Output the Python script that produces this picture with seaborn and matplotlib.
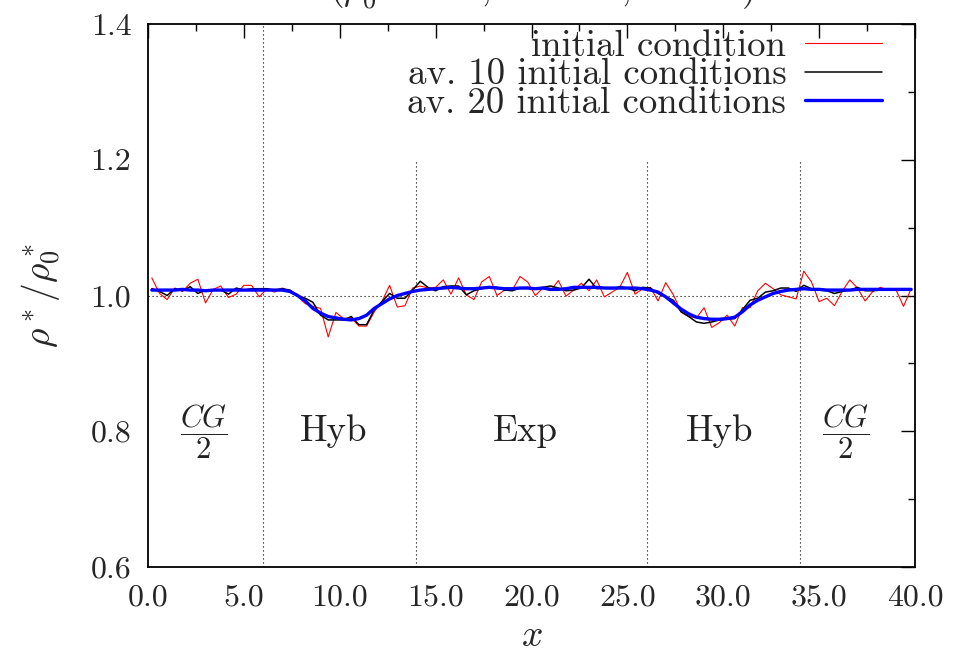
import numpy as np
import pandas as pd
import matplotlib
matplotlib.use("Agg")
import matplotlib.pyplot as plt
import seaborn as sns
from matplotlib.ticker import MultipleLocator

# ---------------- data ----------------
x_pos = np.round(np.arange(0.2, 40.0, 0.4), 1)

red_single = [
    1.026, 1.003, 0.994, 1.011, 1.006, 1.018, 1.024, 0.989, 1.009, 1.014,
    0.997, 1.002, 1.015, 1.015, 0.998, 1.010, 1.005, 1.011, 1.006,
    0.999, 0.988, 0.984, 0.981, 0.939, 0.975, 0.966, 0.967, 0.955, 0.955,
    0.976, 0.991, 1.015, 0.983, 0.985, 1.011, 1.014, 1.011, 1.012, 1.023, 1.002,
    1.026, 1.001, 0.994, 1.020, 1.028, 1.000, 1.008, 1.008, 1.028, 1.020,
    1.000, 1.011, 1.007, 1.022, 0.999, 1.008, 1.018, 1.007, 1.023, 0.998,
    1.005, 1.012, 1.034, 1.002, 1.010, 1.012, 0.992, 1.019, 1.001, 0.976,
    0.969, 0.967, 0.982, 0.953, 0.960, 0.971, 0.955, 0.982, 0.982, 1.007,
    1.018, 1.010, 1.001, 0.998, 0.995, 1.036, 1.020, 0.991, 0.996, 0.985,
    1.006, 1.023, 1.011, 0.992, 1.006, 1.012, 1.008, 1.009, 0.984, 1.010,
]

black_avg10 = [
    1.010, 1.006, 1.000, 1.010, 1.007, 1.013, 1.003, 1.008, 1.008, 1.008,
    1.002, 1.011, 1.008, 1.010, 1.010, 1.010, 1.008, 1.010, 1.008,
    1.000, 0.996, 0.990, 0.971, 0.964, 0.964, 0.964, 0.969, 0.957, 0.957,
    0.979, 0.991, 1.003, 0.996, 0.996, 1.008, 1.021, 1.012, 1.007, 1.013, 1.014,
    1.014, 1.001, 1.007, 1.010, 1.013, 1.012, 1.008, 1.007, 1.011, 1.012,
    1.010, 1.012, 1.014, 1.011, 1.007, 1.008, 1.011, 1.024, 1.010, 1.011,
    1.010, 1.013, 1.011, 1.007, 1.012, 1.011, 1.003, 0.998, 0.993, 0.976,
    0.969, 0.961, 0.959, 0.961, 0.964, 0.965, 0.966, 0.979, 0.993, 0.996,
    1.005, 1.007, 1.011, 1.011, 1.006, 1.015, 1.010, 1.008, 1.007, 1.003,
    1.006, 1.008, 1.012, 1.007, 1.007, 1.008, 1.010, 1.008, 1.008, 1.008,
]

blue_avg20 = [
    1.008, 1.008, 1.008, 1.008, 1.009, 1.008, 1.008, 1.007, 1.008, 1.008,
    1.008, 1.008, 1.008, 1.008, 1.008, 1.008, 1.008, 1.008, 1.006,
    1.000, 0.992, 0.981, 0.974, 0.969, 0.967, 0.965, 0.964, 0.966, 0.971,
    0.981, 0.988, 0.995, 1.000, 1.003, 1.006, 1.008, 1.009, 1.010, 1.011, 1.012,
    1.011, 1.010, 1.010, 1.011, 1.012, 1.011, 1.010, 1.010, 1.011, 1.011,
    1.010, 1.011, 1.009, 1.009, 1.010, 1.012, 1.012, 1.012, 1.012, 1.011,
    1.011, 1.011, 1.011, 1.011, 1.010, 1.008, 1.005, 0.998, 0.989, 0.980,
    0.973, 0.968, 0.966, 0.965, 0.965, 0.966, 0.968, 0.976, 0.986, 0.993,
    0.998, 1.003, 1.006, 1.008, 1.009, 1.010, 1.009, 1.009, 1.008, 1.008,
    1.008, 1.008, 1.009, 1.009, 1.009, 1.009, 1.009, 1.009, 1.009, 1.009,
]

series_labels = ["initial condition", "av. 10 initial conditions",
                 "av. 20 initial conditions"]

x_ticks = [0, 5, 10, 15, 20, 25, 30, 35, 40]
x_tick_labels = ["0.0", "5.0", "10.0", "15.0", "20.0", "25.0", "30.0", "35.0", "40.0"]
y_ticks = [0.6, 0.8, 1.0, 1.2, 1.4]
y_tick_labels = ["0.6", "0.8", "1.0", "1.2", "1.4"]

boundaries_full = [6]
boundaries_short = [14, 26, 34]

region_x = [2.9, 9.7, 19.7, 29.8, 36.4]
region_labels = [r"$\dfrac{CG}{2}$", "Hyb", "Exp", "Hyb", r"$\dfrac{CG}{2}$"]

title_text = r"$(\rho_0^* = 0.5,\ T^*=2,\ t=10)$"

# ---------------- style ----------------
sns.set_theme(style="white")
plt.rcParams["font.family"] = ["cmr10", "DejaVu Sans"]
plt.rcParams["mathtext.fontset"] = "cm"
plt.rcParams["axes.formatter.use_mathtext"] = True

fig = plt.figure(figsize=(9.63, 6.52), dpi=100)
ax = fig.add_axes([148 / 963, 1 - 567 / 652, 767 / 963, 543 / 652])

df = pd.DataFrame({
    "x": x_pos,
    series_labels[0]: red_single,
    series_labels[1]: black_avg10,
    series_labels[2]: blue_avg20,
})

dot = (0, (1, 2.6))
ax.axhline(1.0, color="black", lw=0.8, ls=dot, zorder=1)
ax.vlines(boundaries_full, 0.6, 1.4, color="black", lw=0.8, ls=dot, zorder=1)
ax.vlines(boundaries_short, 0.6, 1.2, color="black", lw=0.8, ls=dot, zorder=1)

sns.lineplot(data=df, x="x", y=series_labels[0], color="#ff0000", lw=0.8,
             label=series_labels[0], ax=ax, errorbar=None, zorder=3)
sns.lineplot(data=df, x="x", y=series_labels[1], color="black", lw=1.1,
             label=series_labels[1], ax=ax, errorbar=None, zorder=4)
sns.lineplot(data=df, x="x", y=series_labels[2], color="#0000ff", lw=2.4,
             label=series_labels[2], ax=ax, errorbar=None, zorder=5)

ax.set_xlim(0, 40)
ax.set_ylim(0.6, 1.4)
ax.set_xticks(x_ticks)
ax.set_xticklabels(x_tick_labels)
ax.set_yticks(y_ticks)
ax.set_yticklabels(y_tick_labels)
ax.xaxis.set_minor_locator(MultipleLocator(2.5))
ax.yaxis.set_minor_locator(MultipleLocator(0.1))
ax.tick_params(which="both", direction="in", top=True, right=True,
               color="black", width=1.0, labelsize=23, pad=12)
ax.tick_params(which="major", length=10)
ax.tick_params(which="minor", length=5)
for s in ax.spines.values():
    s.set_color("black")
    s.set_linewidth(1.3)

ax.set_xlabel(r"$x$", fontsize=27, labelpad=6)
ax.set_ylabel(r"$\rho^*/\rho_0^*$", fontsize=27, labelpad=20)

for xr, lab in zip(region_x, region_labels):
    fs = 22 if "CG" in lab else 26.5
    ax.text(xr, 0.8, lab, ha="center", va="center", fontsize=fs, color="#222222")

handles, labels = ax.get_legend_handles_labels()
ax.legend(handles, labels, loc="upper right", bbox_to_anchor=(0.957, 0.99),
          markerfirst=False, frameon=False, fontsize=26.5, handlelength=2.1,
          handletextpad=0.5, labelspacing=-0.12, borderpad=0, borderaxespad=0)

fig.text(0.563, 1.0, title_text, ha="center", va="baseline", fontsize=27)

fig.savefig("out.png", dpi=100)
